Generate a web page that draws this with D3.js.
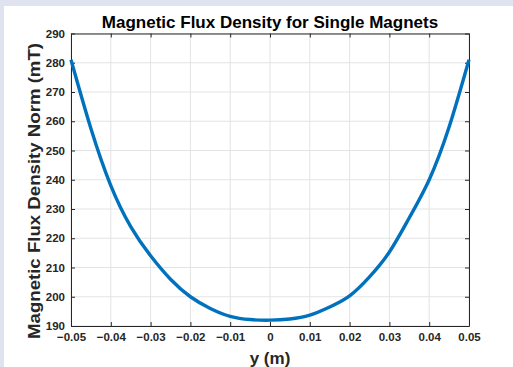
<!DOCTYPE html>
<html>
<head>
<meta charset="utf-8">
<script src="https://cdn.jsdelivr.net/npm/d3@7"></script>
<style>
  body { margin: 0; background: #dfe3ef; }
  svg { display: block; }
  text { font-family: "Liberation Sans", Arial, sans-serif; font-weight: bold; }
</style>
</head>
<body>
<svg id="chart" width="513" height="367"></svg>
<script>
// flux norm every 5 mm
const yPos = [-0.05, -0.045, -0.04, -0.035, -0.03, -0.025, -0.02, -0.015, -0.01, -0.005, 0,
  0.005, 0.01, 0.015, 0.02, 0.025, 0.03, 0.035, 0.04, 0.045, 0.05];
const fluxNorm = [281, 257.5, 238, 224, 214, 206, 200, 196, 193.3, 192.2, 192,
  192.4, 193.7, 196.5, 200.3, 206.8, 215.3, 227, 240, 258, 281];
const xTicks = [-0.05, -0.04, -0.03, -0.02, -0.01, 0, 0.01, 0.02, 0.03, 0.04, 0.05];
const yTicks = [190, 200, 210, 220, 230, 240, 250, 260, 270, 280, 290];

const svg = d3.select('#chart');
const margin = { top: 33.5, right: 44, bottom: 41, left: 71 };
const width = 513 - margin.left - margin.right,
  height = 367 - margin.top - margin.bottom;

// white figure panel
svg.append('rect').attr('x', 4).attr('y', 6).attr('width', 513).attr('height', 367).attr('fill', '#fff');

const x = d3.scaleLinear().domain([-0.05, 0.05]).range([0, width]);
const y = d3.scaleLinear().domain([190, 290]).range([height, 0]);

const g = svg.append('g').attr('transform', 'translate(' + margin.left + ',' + margin.top + ')');

// grid
g.append('g').selectAll('line').data(xTicks).enter().append('line')
  .attr('x1', d => x(d)).attr('x2', d => x(d)).attr('y1', 0).attr('y2', height)
  .attr('stroke', '#e3e3e3').attr('stroke-width', 1);
g.append('g').selectAll('line').data(yTicks).enter().append('line')
  .attr('y1', d => y(d)).attr('y2', d => y(d)).attr('x1', 0).attr('x2', width)
  .attr('stroke', '#e3e3e3').attr('stroke-width', 1);

const fmtX = d => d === 0 ? '0' : d3.format('.2f')(d);

const axB = g.append('g').attr('class', 'axis axis--x')
  .attr('transform', 'translate(0,' + height + ')')
  .call(d3.axisBottom(x).tickValues(xTicks).tickFormat(fmtX).tickSizeInner(-4).tickSizeOuter(0).tickPadding(7));
const axL = g.append('g').attr('class', 'axis axis--y')
  .call(d3.axisLeft(y).tickValues(yTicks).tickFormat(d3.format('d')).tickSizeInner(-4).tickSizeOuter(0).tickPadding(6));
g.append('g')
  .call(d3.axisTop(x).tickValues(xTicks).tickFormat('').tickSizeInner(-4).tickSizeOuter(0));
g.append('g').attr('transform', 'translate(' + width + ',0)')
  .call(d3.axisRight(y).tickValues(yTicks).tickFormat('').tickSizeInner(-4).tickSizeOuter(0));

svg.selectAll('.domain').attr('stroke', '#262626');
svg.selectAll('.tick line').attr('stroke', '#262626');
svg.selectAll('.axis text').attr('font-size', '11.5px').attr('fill', '#262626')
  .style('font-family', '"Liberation Sans", Arial, sans-serif').style('font-weight', 'bold');
axB.selectAll('text').attr('dy', '0.71em');

// curve
const line = d3.line()
  .x((d, i) => x(yPos[i]))
  .y(d => y(d))
  .curve(d3.curveNatural);
g.append('path').datum(fluxNorm)
  .attr('d', line)
  .attr('fill', 'none')
  .attr('stroke', '#0072bd')
  .attr('stroke-width', 3.4)
  .attr('stroke-linejoin', 'round');

// titles
svg.append('text').attr('x', margin.left + width / 2).attr('y', 27.5)
  .attr('text-anchor', 'middle').attr('font-size', '17px').attr('fill', '#000')
  .text('Magnetic Flux Density for Single Magnets');
svg.append('text').attr('x', margin.left + width / 2).attr('y', 364)
  .attr('text-anchor', 'middle').attr('font-size', '17px').attr('fill', '#262626')
  .text('y (m)');
svg.append('text').attr('transform', 'translate(40,191) rotate(-90)')
  .attr('text-anchor', 'middle').attr('font-size', '17px').attr('fill', '#262626')
  .attr('textLength', 296).attr('lengthAdjust', 'spacingAndGlyphs')
  .text('Magnetic Flux Density Norm (mT)');
</script>
</body>
</html>
